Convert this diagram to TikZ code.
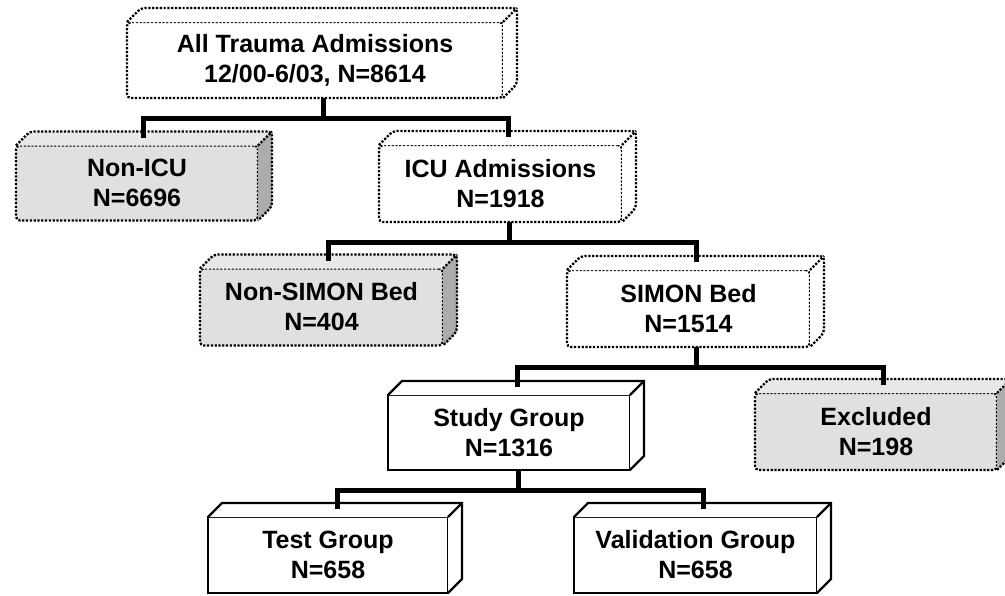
\documentclass[tikz,border=0pt]{standalone}
\usepackage{fontspec}
\setmainfont{Liberation Sans}
\usetikzlibrary{calc}

\definecolor{frontgray}{RGB}{224,224,224}
\definecolor{topgray}{RGB}{232,232,232}
\definecolor{sidegray}{RGB}{172,172,172}

\tikzset{
  face/.style={outer sep=0pt, inner sep=0pt, align=center,
    font=\fontsize{25}{30}\selectfont\bfseries,
    minimum width=243pt, minimum height=77pt},
  dotline/.style={line width=2.3pt, dash pattern=on 2.2pt off 1.6pt, rounded corners=4pt},
  solidline/.style={line width=2.2pt, line join=miter},
  dotbox/.style={face, draw, dotline, fill=white},
  graybox/.style={face, draw, dotline, fill=frontgray},
  solidbox/.style={face, draw, solidline, fill=white},
  conn/.style={line width=5pt, line join=miter}
}

% top and side faces of a box node: #1 name, #2 line style, #3 top fill, #4 side fill
\newcommand\depthfaces[4]{%
  \fill[#3] (#1.north west) -- ++(14,-14) -- ([shift={(14,-14)}]#1.north east) -- (#1.north east) -- cycle;
  \fill[#4] (#1.north east) -- ([shift={(14,-14)}]#1.north east) -- ([shift={(14,-14)}]#1.south east) -- (#1.south east) -- cycle;
  \draw[#2] (#1.north west) -- ++(14,-14) -- ([shift={(14,-14)}]#1.north east)
    -- ([shift={(14,-14)}]#1.south east) -- (#1.south east);
  \draw[#2] (#1.north east) -- ([shift={(14,-14)}]#1.north east);
}

\begin{document}
\begin{tikzpicture}[x=1pt, y=-1pt]
\useasboundingbox (0,0) rectangle (1005,595);

% boxes
\node[dotbox, minimum width=376pt, minimum height=76pt] (all) at (315,60)
  {All Trauma Admissions\\12/00-6/03, N=8614};
\node[graybox, minimum width=242pt, minimum height=75pt] (nonicu) at (137,183) {Non-ICU\\N=6696};
\node[dotbox] (icu) at (500.5,183.5) {ICU Admissions\\N=1918};
\node[graybox] (nonsimon) at (321.5,307) {Non-SIMON Bed\\N=404};
\node[dotbox] (simon) at (688.5,308.5) {SIMON Bed\\N=1514};
\node[solidbox, minimum width=242pt, minimum height=75pt] (study) at (509,432.5) {Study Group\\N=1316};
\node[graybox, minimum width=242pt] (excl) at (876,431.5) {Excluded\\N=198};
\node[solidbox, minimum width=240pt, minimum height=76pt] (test) at (328,555) {Test Group\\N=658};
\node[solidbox, minimum height=76pt] (valid) at (695.5,555) {Validation Group\\N=658};

\depthfaces{all}{dotline}{white}{white}
\depthfaces{nonicu}{dotline}{topgray}{sidegray}
\depthfaces{icu}{dotline}{white}{white}
\depthfaces{nonsimon}{dotline}{topgray}{sidegray}
\depthfaces{simon}{dotline}{white}{white}
\depthfaces{study}{solidline}{white}{white}
\depthfaces{excl}{dotline}{topgray}{sidegray}
\depthfaces{test}{solidline}{white}{white}
\depthfaces{valid}{solidline}{white}{white}

% connectors
\draw[conn] ([xshift=8pt]all.south) -- ++(0,20.5) -| ([xshift=6pt,yshift=8pt]nonicu.north);
\draw[conn] ([xshift=8pt]all.south) -- ++(0,20.5) -| ([xshift=7.5pt,yshift=8pt]icu.north);
\draw[conn] ([xshift=8.5pt]icu.south) -- ++(0,20.5) -| ([xshift=6.5pt,yshift=8pt]nonsimon.north);
\draw[conn] ([xshift=8.5pt]icu.south) -- ++(0,20.5) -| ([xshift=7.5pt,yshift=8pt]simon.north);
\draw[conn] ([xshift=7.5pt]simon.south) -- ++(0,20.5) -| ([xshift=8pt,yshift=8pt]study.north);
\draw[conn] ([xshift=7.5pt]simon.south) -- ++(0,20.5) -| ([xshift=7pt,yshift=8pt]excl.north);
\draw[conn] ([xshift=9pt]study.south) -- ++(0,20) -| ([xshift=9pt,yshift=8pt]test.north);
\draw[conn] ([xshift=9pt]study.south) -- ++(0,20) -| ([xshift=7.5pt,yshift=8pt]valid.north);
\end{tikzpicture}
\end{document}
